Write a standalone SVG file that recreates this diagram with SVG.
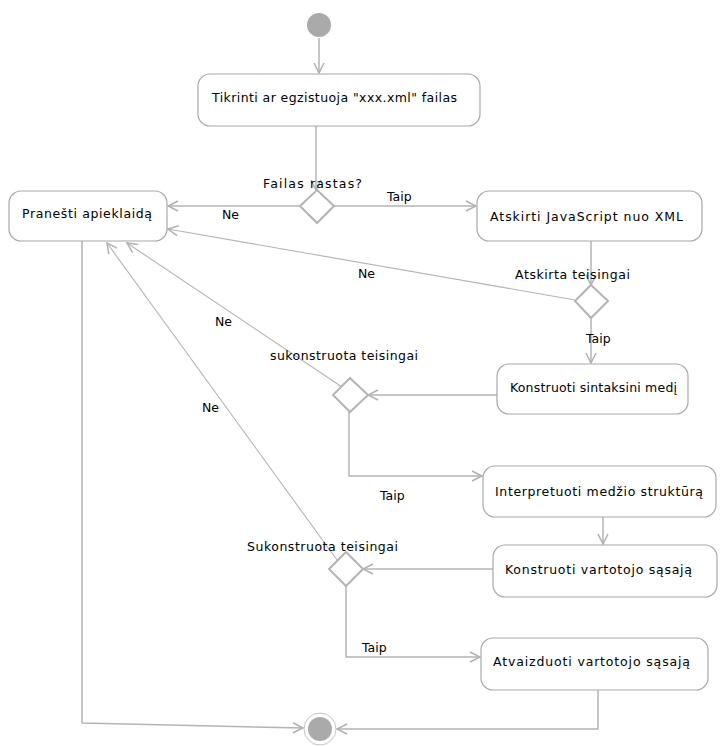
<svg xmlns="http://www.w3.org/2000/svg" width="723" height="746" viewBox="0 0 723 746">
  <defs>
    <marker id="arrow" viewBox="0 0 12 12" refX="11" refY="6" markerWidth="12" markerHeight="12" markerUnits="userSpaceOnUse" orient="auto">
      <path d="M1,1 L11,6 L1,11" fill="none" stroke="#b0b0b0" stroke-width="1.5"/>
    </marker>
    <style>
      .act { fill: #ffffff; stroke: #a8a8a8; stroke-width: 1.2; }
      .dec { fill: #ffffff; stroke: #b4b4b4; stroke-width: 2; }
      .flow { fill: none; stroke: #b4b4b4; stroke-width: 1.5; }
      .diag { fill: none; stroke: #b4b4b4; stroke-width: 1.1; }
      text { font-family: "DejaVu Sans", "Liberation Sans", sans-serif; font-size: 12.5px; fill: #000000; }
    </style>
  </defs>
  <rect width="723" height="746" fill="#ffffff"/>

  <!-- connectors -->
  <g id="connectors">
    <line class="flow" x1="319" y1="38" x2="319" y2="73" marker-end="url(#arrow)"/>
    <line class="flow" x1="316" y1="126" x2="316" y2="190" marker-end="url(#arrow)"/>
    <line class="flow" x1="300" y1="206" x2="168" y2="206" marker-end="url(#arrow)"/>
    <line class="flow" x1="334" y1="206" x2="476" y2="206" marker-end="url(#arrow)"/>
    <line class="flow" x1="591" y1="241" x2="591" y2="285" marker-end="url(#arrow)"/>
    <line class="diag" x1="575" y1="300" x2="168" y2="229" marker-end="url(#arrow)"/>
    <line class="flow" x1="591" y1="318" x2="591" y2="363" marker-end="url(#arrow)"/>
    <line class="flow" x1="497" y1="395" x2="368" y2="395" marker-end="url(#arrow)"/>
    <line class="diag" x1="342" y1="387" x2="127" y2="243" marker-end="url(#arrow)"/>
    <polyline class="flow" points="349,412 349,476 482,476" marker-end="url(#arrow)"/>
    <line class="flow" x1="603" y1="517" x2="603" y2="544" marker-end="url(#arrow)"/>
    <line class="flow" x1="493" y1="569" x2="363" y2="569" marker-end="url(#arrow)"/>
    <line class="diag" x1="337" y1="560" x2="107" y2="243" marker-end="url(#arrow)"/>
    <polyline class="flow" points="346,586 346,657 480,657" marker-end="url(#arrow)"/>
    <polyline class="flow" points="598,690 598,729 337,729" marker-end="url(#arrow)"/>
    <polyline class="flow" points="82,241 82,723 303,728" marker-end="url(#arrow)"/>
  </g>

  <!-- edge labels -->
  <g id="edge-labels">
    <text x="222" y="219">Ne</text>
    <text x="387" y="201">Taip</text>
    <text x="358" y="278">Ne</text>
    <text x="586" y="343">Taip</text>
    <text x="215" y="326">Ne</text>
    <text x="202" y="412">Ne</text>
    <text x="380" y="500">Taip</text>
    <text x="362" y="652">Taip</text>
  </g>

  <!-- start / end -->
  <g id="start">
    <circle cx="319" cy="25" r="12" fill="#aaaaaa"/>
  </g>
  <g id="end">
    <circle cx="320" cy="729" r="16" fill="#ffffff" stroke="#c4c4c4" stroke-width="1"/>
    <circle cx="320" cy="729" r="12" fill="#aaaaaa"/>
  </g>

  <!-- activities -->
  <g id="tikrinti">
    <rect class="act" x="198" y="74" width="282" height="52" rx="12"/>
    <text x="212" y="102" textLength="245">Tikrinti ar egzistuoja "xxx.xml" failas</text>
  </g>
  <g id="pranesti">
    <rect class="act" x="9" y="191" width="158" height="50" rx="12"/>
    <text x="22" y="218" textLength="130">Pranešti apieklaidą</text>
  </g>
  <g id="atskirti">
    <rect class="act" x="477" y="191" width="225" height="50" rx="12"/>
    <text x="490" y="221" textLength="193">Atskirti JavaScript nuo XML</text>
  </g>
  <g id="konstruoti-medi">
    <rect class="act" x="497" y="364" width="191" height="50" rx="12"/>
    <text x="510" y="392" textLength="167">Konstruoti sintaksini medį</text>
  </g>
  <g id="interpretuoti">
    <rect class="act" x="483" y="466" width="233" height="51" rx="12"/>
    <text x="495" y="496" textLength="208">Interpretuoti medžio struktūrą</text>
  </g>
  <g id="konstruoti-sasaja">
    <rect class="act" x="493" y="545" width="224" height="52" rx="12"/>
    <text x="505" y="574" textLength="187">Konstruoti vartotojo sąsają</text>
  </g>
  <g id="atvaizduoti">
    <rect class="act" x="481" y="638" width="227" height="52" rx="12"/>
    <text x="493" y="666" textLength="197">Atvaizduoti vartotojo sąsają</text>
  </g>

  <!-- decisions -->
  <g id="failas-rastas">
    <polygon class="dec" points="317,190 334,206 317,223 300,206"/>
    <text x="263" y="188" textLength="99">Failas rastas?</text>
  </g>
  <g id="atskirta-teisingai">
    <polygon class="dec" points="591,285 608,301 591,318 575,301"/>
    <text x="515" y="279" textLength="115">Atskirta teisingai</text>
  </g>
  <g id="sukonstruota-medis">
    <polygon class="dec" points="350,378 368,395 350,412 333,395"/>
    <text x="270" y="360" textLength="148">sukonstruota teisingai</text>
  </g>
  <g id="sukonstruota-sasaja">
    <polygon class="dec" points="346,552 363,569 346,586 329,569"/>
    <text x="247" y="551" textLength="151">Sukonstruota teisingai</text>
  </g>
</svg>
